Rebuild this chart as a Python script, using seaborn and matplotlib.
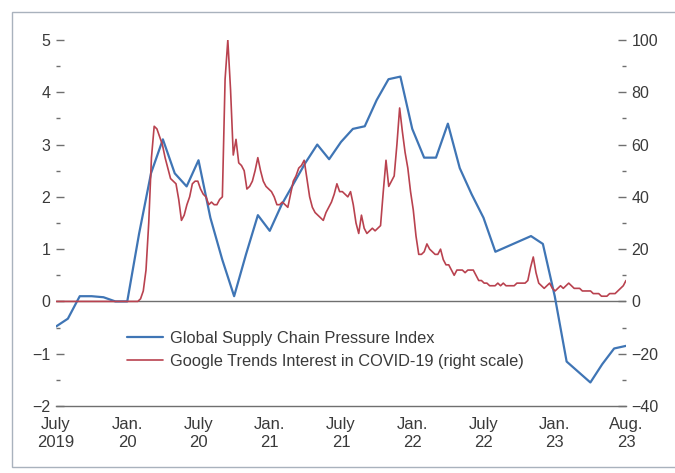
import numpy as np
import seaborn as sns
import matplotlib.pyplot as plt
from matplotlib.ticker import MultipleLocator
from matplotlib.patches import Rectangle

# Global Supply Chain Pressure Index, monthly, July 2019 .. Aug 2023 (left scale)
gscpi = [-0.48, -0.33, 0.1, 0.1, 0.08, 0.0, 0.0, 1.3, 2.45, 3.1, 2.45, 2.2,
         2.7, 1.6, 0.8, 0.1, 0.9, 1.65, 1.35, 1.85, 2.25, 2.65, 3.0, 2.72,
         3.05, 3.3, 3.35, 3.85, 4.25, 4.3, 3.3, 2.75, 2.75, 3.4, 2.55, 2.05,
         1.6, 0.95, 1.05, 1.15, 1.25, 1.1, 0.1, -1.15, -1.35, -1.55, -1.2, -0.9,
         -0.85]

# Google Trends interest in COVID-19, weekly (right scale)
trend = [0] * 31 + [
    1, 4, 12, 30, 55, 67, 66, 63, 60, 55, 51, 47, 46, 45, 39, 31, 33, 37, 40,
    45, 46, 46, 43, 41, 40, 37, 38, 37, 37, 39, 40, 85, 100, 81, 56, 62, 53,
    52, 50, 43, 44, 46, 50, 55, 50, 46, 44, 43, 42, 40, 37, 37, 38, 37, 36,
    41, 46, 48, 51, 52, 54, 47, 40, 36, 34, 33, 32, 31, 34, 36, 38, 41, 45,
    42, 42, 41, 40, 42, 37, 30, 26, 33, 28, 26, 27, 28, 27, 28, 29, 42, 54,
    44, 46, 48, 60, 74, 65, 57, 51, 42, 35, 25, 18, 18, 19, 22, 20, 19, 18,
    18, 20, 16, 14, 14, 12, 10, 12, 12, 12, 11, 12, 12, 12, 10, 8, 8, 7, 7,
    6, 6, 6, 7, 6, 7, 6, 6, 6, 6, 7, 7, 7, 7, 8, 13, 17, 11, 7, 6, 5, 6, 7,
    5, 4, 5, 6, 5, 6, 7, 6, 5, 5, 5, 4, 4, 4, 4, 3, 3, 3, 2, 2, 2, 3, 3, 3,
    4, 5, 6, 8]

tick_months = [0, 6, 12, 18, 24, 30, 36, 42, 48]
tick_labels = ['July\n2019', 'Jan.\n20', 'July\n20', 'Jan.\n21', 'July\n21',
               'Jan.\n22', 'July\n22', 'Jan.\n23', 'Aug.\n23']

month_x = np.arange(len(gscpi))
week_x = np.linspace(0, len(gscpi) - 1, len(trend))

blue = '#3f75b5'
red = '#b9424f'
grey_text = '#3a3a3a'

sns.set_style('white')
plt.rcParams['font.family'] = ['Liberation Sans', 'DejaVu Sans']

fig = plt.figure(figsize=(6.75, 4.73), dpi=100)
ax = fig.add_axes([56 / 675, 1 - 406 / 473, 570 / 675, 366 / 473])
ax2 = ax.twinx()

sns.lineplot(x=month_x, y=gscpi, ax=ax, color=blue, lw=1.6,
             label='Global Supply Chain Pressure Index', legend=False)
sns.lineplot(x=week_x, y=trend, ax=ax2, color=red, lw=1.2,
             label='Google Trends Interest in COVID-19 (right scale)', legend=False)

ax.axhline(0, color='#6f6f6f', lw=1.0, zorder=0)

ax.set_xlim(0, 48)
ax.set_ylim(-2, 5)
ax2.set_ylim(-40, 100)

for a in (ax, ax2):
    for s in a.spines.values():
        s.set_visible(False)
ax.spines['bottom'].set_visible(True)
ax.spines['bottom'].set_color('#6f6f6f')
ax.spines['bottom'].set_linewidth(1.0)

ax.set_xticks(tick_months)
ax.set_xticklabels(tick_labels, fontsize=12, color=grey_text, linespacing=1.25)
ax.tick_params(axis='x', direction='in', length=5, width=1, color='#6f6f6f', pad=8)

ax.yaxis.set_major_locator(MultipleLocator(1))
ax.yaxis.set_minor_locator(MultipleLocator(0.5))
ax.tick_params(axis='y', which='major', direction='in', length=6, width=1,
               color='#6f6f6f', labelsize=11.5, labelcolor=grey_text, pad=4, left=True)
ax.tick_params(axis='y', which='minor', direction='in', length=3, width=1,
               color='#6f6f6f', left=True)

ax2.yaxis.set_major_locator(MultipleLocator(20))
ax2.yaxis.set_minor_locator(MultipleLocator(10))
ax2.tick_params(axis='y', which='major', direction='in', length=6, width=1,
                color='#6f6f6f', labelsize=11.5, labelcolor=grey_text, pad=4, right=True)
ax2.tick_params(axis='y', which='minor', direction='in', length=3, width=1,
                color='#6f6f6f', right=True)

ax.set_xlabel('')
ax.set_ylabel('')
ax2.set_ylabel('')
ax.grid(False)
ax2.grid(False)

h1, l1 = ax.get_legend_handles_labels()
h2, l2 = ax2.get_legend_handles_labels()
leg = ax2.legend(h1 + h2, l1 + l2, loc='upper left', bbox_to_anchor=(127 / 675, 1 - 331 / 473),
                 bbox_transform=fig.transFigure, frameon=False, fontsize=11.8,
                 handlelength=2.2, handletextpad=0.45, labelspacing=0.5,
                 borderpad=0, borderaxespad=0)
for t in leg.get_texts():
    t.set_color(grey_text)

# thin border around the whole exhibit
fig.patches.append(Rectangle((12 / 675, 1 - 467 / 473), 664 / 675, 455 / 473,
                             transform=fig.transFigure, fill=False,
                             edgecolor='#a9b2bd', lw=1.0))

fig.savefig('out.png', dpi=100)
